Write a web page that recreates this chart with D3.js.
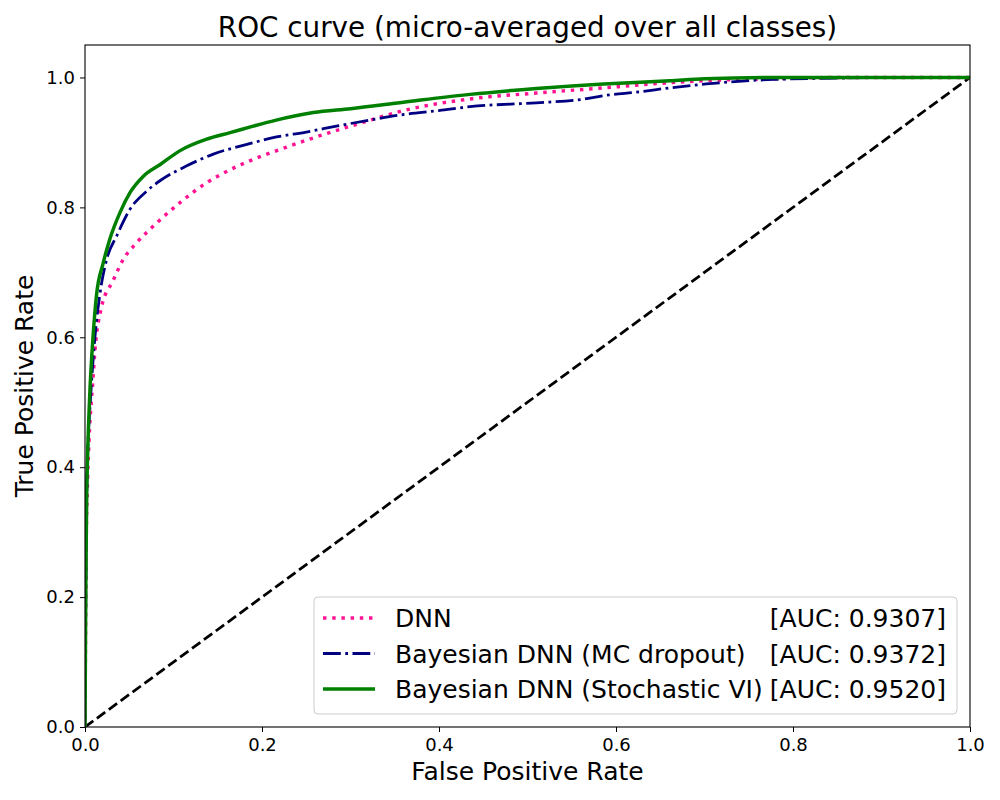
<!DOCTYPE html>
<html>
<head>
<meta charset="utf-8">
<script src="https://cdn.jsdelivr.net/npm/d3@7"></script>
<style>
  body { margin: 0; background: #fff; }
  svg { display: block; font-family: "DejaVu Sans", sans-serif; }
</style>
</head>
<body>
<svg id="chart" width="1000" height="800"></svg>
<script>
// values
const dnnFpr = [0, 0.0005, 0.001, 0.0015, 0.0025, 0.0045, 0.0087, 0.0113, 0.018, 0.032, 0.0433, 0.058, 0.081, 0.107, 0.1375, 0.164, 0.194, 0.22, 0.258, 0.307, 0.36, 0.435, 0.51, 0.586, 0.661, 0.70, 0.778, 0.85, 1.0];
const dnnTpr = [0, 0.12, 0.22, 0.30, 0.36, 0.44, 0.53, 0.581, 0.643, 0.688, 0.72, 0.745, 0.776, 0.807, 0.838, 0.858, 0.876, 0.889, 0.907, 0.928, 0.949, 0.967, 0.976, 0.984, 0.992, 0.995, 0.998, 1.0, 1.0];

const mcFpr = [0, 0.0005, 0.001, 0.0015, 0.002, 0.003, 0.006, 0.0113, 0.017, 0.0245, 0.0358, 0.0508, 0.0697, 0.0847, 0.115, 0.145, 0.183, 0.215, 0.25, 0.284, 0.32, 0.36, 0.40, 0.435, 0.51, 0.56, 0.586, 0.627, 0.661, 0.702, 0.778, 0.853, 0.92, 1.0];
const mcTpr = [0, 0.12, 0.22, 0.30, 0.36, 0.42, 0.50, 0.601, 0.668, 0.72, 0.756, 0.797, 0.825, 0.841, 0.864, 0.882, 0.897, 0.908, 0.916, 0.925, 0.934, 0.943, 0.949, 0.955, 0.961, 0.966, 0.972, 0.978, 0.984, 0.99, 0.997, 0.999, 1.0, 1.0];

const sviFpr = [0, 0.0005, 0.001, 0.0015, 0.002, 0.003, 0.005, 0.0094, 0.013, 0.0207, 0.028, 0.0395, 0.051, 0.066, 0.085, 0.107, 0.1375, 0.164, 0.19, 0.215, 0.258, 0.30, 0.36, 0.435, 0.51, 0.586, 0.661, 0.70, 0.78, 0.85, 1.0];
const sviTpr = [0, 0.12, 0.22, 0.30, 0.36, 0.42, 0.50, 0.607, 0.665, 0.715, 0.751, 0.792, 0.823, 0.848, 0.866, 0.887, 0.905, 0.915, 0.925, 0.934, 0.946, 0.952, 0.962, 0.974, 0.983, 0.990, 0.995, 0.998, 1.0, 1.0, 1.0];

const seriesNames = ["DNN", "Bayesian DNN (MC dropout)", "Bayesian DNN (Stochastic VI)"];
const aucLabels = ["[AUC: 0.9307]", "[AUC: 0.9372]", "[AUC: 0.9520]"];
const xTicks = [0, 0.2, 0.4, 0.6, 0.8, 1.0];
const yTicks = [0, 0.2, 0.4, 0.6, 0.8, 1.0];

const styles = [
  {color: "#ff1493", width: 3.47, dash: "3.47,5.73"},
  {color: "#000080", width: 2.78, dash: "17.8,4.45,2.78,4.45"},
  {color: "#008000", width: 3.47, dash: null}
];

const svg = d3.select("#chart");
const margin = {top: 45, right: 30, bottom: 73, left: 85};
const width = 1000 - margin.left - margin.right;
const height = 800 - margin.top - margin.bottom;

const x = d3.scaleLinear().domain([0, 1]).range([margin.left, margin.left + width]);
const y = d3.scaleLinear().domain([0, 1.05]).range([margin.top + height, margin.top]);

svg.append("defs").append("clipPath").attr("id", "plotclip")
  .append("rect")
  .attr("x", margin.left).attr("y", margin.top)
  .attr("width", width).attr("height", height);

const plot = svg.append("g").attr("clip-path", "url(#plotclip)");

// chance line
plot.append("line")
  .attr("x1", x(0)).attr("y1", y(0))
  .attr("x2", x(1)).attr("y2", y(1))
  .attr("stroke", "#000")
  .attr("stroke-width", 2.78)
  .attr("stroke-dasharray", "10.3,4.45");

const line = d3.line()
  .x(d => x(d[0]))
  .y(d => y(d[1]))
  .curve(d3.curveMonotoneX);

const curves = [
  d3.zip(dnnFpr, dnnTpr),
  d3.zip(mcFpr, mcTpr),
  d3.zip(sviFpr, sviTpr)
];

curves.forEach((pts, i) => {
  plot.append("path")
    .datum(pts)
    .attr("fill", "none")
    .attr("stroke", styles[i].color)
    .attr("stroke-width", styles[i].width)
    .attr("stroke-dasharray", styles[i].dash)
    .attr("d", line);
});

// axes
const xAxis = d3.axisBottom(x).tickValues(xTicks).tickFormat(d3.format(".1f")).tickSize(5).tickPadding(6.5);
const yAxis = d3.axisLeft(y).tickValues(yTicks).tickFormat(d3.format(".1f")).tickSize(5).tickPadding(5);

const gx = svg.append("g")
  .attr("transform", `translate(0,${margin.top + height})`)
  .call(xAxis);
const gy = svg.append("g")
  .attr("transform", `translate(${margin.left},0)`)
  .call(yAxis);

[gx, gy].forEach(g => {
  g.select(".domain").remove();
  g.selectAll("text").attr("font-size", 18).attr("fill", "#000").attr("font-family", "DejaVu Sans");
  g.selectAll("line").attr("stroke", "#000").attr("stroke-width", 1);
});

// frame
svg.append("rect")
  .attr("x", margin.left).attr("y", margin.top)
  .attr("width", width).attr("height", height)
  .attr("fill", "none")
  .attr("stroke", "#000")
  .attr("stroke-width", 1.1);

// titles
svg.append("text")
  .attr("x", margin.left + width / 2).attr("y", 37)
  .attr("text-anchor", "middle")
  .attr("font-size", 27.8)
  .text("ROC curve (micro-averaged over all classes)");

svg.append("text")
  .attr("x", margin.left + width / 2).attr("y", 780)
  .attr("text-anchor", "middle")
  .attr("font-size", 25)
  .text("False Positive Rate");

svg.append("text")
  .attr("transform", `translate(33,${margin.top + height / 2}) rotate(-90)`)
  .attr("text-anchor", "middle")
  .attr("font-size", 25)
  .text("True Positive Rate");

// legend
const legend = svg.append("g");
legend.append("rect")
  .attr("x", 314).attr("y", 597)
  .attr("width", 643).attr("height", 117)
  .attr("rx", 4)
  .attr("fill", "#fff").attr("fill-opacity", 0.8)
  .attr("stroke", "#cccccc").attr("stroke-width", 1);

seriesNames.forEach((name, i) => {
  const base = 627 + i * 35.5;
  legend.append("line")
    .attr("x1", 323).attr("x2", 375)
    .attr("y1", base - 9).attr("y2", base - 9)
    .attr("stroke", styles[i].color)
    .attr("stroke-width", styles[i].width)
    .attr("stroke-dasharray", styles[i].dash);
  legend.append("text")
    .attr("x", 395).attr("y", base)
    .attr("font-size", 25)
    .text(name);
  legend.append("text")
    .attr("x", 946).attr("y", base)
    .attr("text-anchor", "end")
    .attr("font-size", 25)
    .text(aucLabels[i]);
});
</script>
</body>
</html>
